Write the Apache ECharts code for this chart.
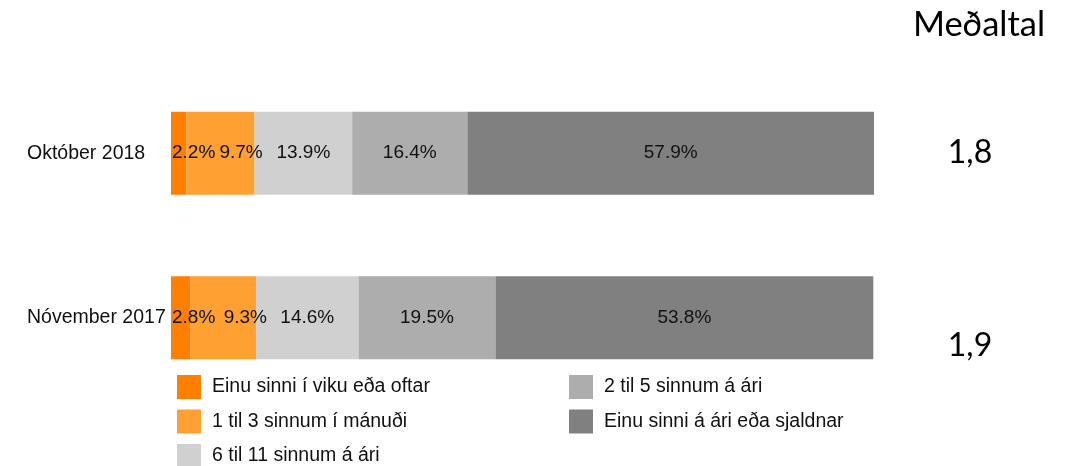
<!DOCTYPE html>
<html>
<head>
<meta charset="utf-8">
<script src="https://cdn.jsdelivr.net/npm/echarts@6/dist/echarts.min.js"></script>
<style>
  html, body { margin: 0; padding: 0; background: #fff; }
  #chart { width: 1066px; height: 466px; }
</style>
</head>
<body>
<div id="chart"></div>
<script>
const periods = ['Október 2018', 'Nóvember 2017'];
const seriesNames = [
  'Einu sinni í viku eða oftar',
  '1 til 3 sinnum í mánuði',
  '6 til 11 sinnum á ári',
  '2 til 5 sinnum á ári',
  'Einu sinni á ári eða sjaldnar'
];
const weekly = [2.2, 2.8];
const monthly = [9.7, 9.3];
const sixToEleven = [13.9, 14.6];
const twoToFive = [16.4, 19.5];
const yearly = [57.9, 53.8];
const averages = ['1,8', '1,9'];
const averageTitle = 'Meðaltal';

const colors = ['#ff8000', '#ffa033', '#d0d0d0', '#adadad', '#808080'];
const values = [weekly, monthly, sixToEleven, twoToFive, yearly];
const font = 'Liberation Sans, Arial, sans-serif';

const chart = echarts.init(document.getElementById('chart'));

// the two small orange segments get their labels pushed right, like the source
const series = values.map((data, i) => ({
  name: seriesNames[i],
  type: 'bar',
  stack: 'total',
  barWidth: 83,
  data: data,
  itemStyle: { color: colors[i] },
  label: {
    show: true,
    position: i < 2 ? 'insideLeft' : 'inside',
    distance: i === 0 ? 1 : (i === 1 ? 33 : 5),
    formatter: p => p.value.toFixed(1) + '%',
    color: '#111',
    fontFamily: font,
    fontSize: 19
  }
}));

const legendCommon = {
  orient: 'vertical',
  top: 375,
  height: 110,
  padding: 0,
  itemWidth: 24,
  itemHeight: 24,
  itemGap: 10.5,
  icon: 'rect',
  selectedMode: false,
  textStyle: {
    fontFamily: font,
    fontSize: 19.5,
    color: '#111',
    padding: [0, 0, 0, 6]
  }
};

chart.setOption({
  animation: false,
  grid: { left: 171, right: 192, top: 71, bottom: 66 },
  xAxis: {
    type: 'value',
    min: 0,
    max: 100.1,
    show: false
  },
  yAxis: {
    type: 'category',
    inverse: true,
    data: periods,
    axisLine: { show: false },
    axisTick: { show: false },
    axisLabel: {
      align: 'left',
      margin: 144,
      fontFamily: font,
      fontSize: 19.5,
      color: '#111'
    }
  },
  legend: [
    Object.assign({}, legendCommon, { left: 177, data: seriesNames.slice(0, 3) }),
    Object.assign({}, legendCommon, { left: 569, data: seriesNames.slice(3) })
  ],
  graphic: [
    {
      type: 'text', x: 979, y: 25,
      style: { text: averageTitle, font: '34.5px Lato', fill: '#000', textAlign: 'center', textVerticalAlign: 'middle' }
    },
    {
      type: 'text', x: 970, y: 153,
      style: { text: averages[0], font: '32px Lato', fill: '#000', textAlign: 'center', textVerticalAlign: 'middle' }
    },
    {
      type: 'text', x: 970, y: 346,
      style: { text: averages[1], font: '32px Lato', fill: '#000', textAlign: 'center', textVerticalAlign: 'middle' }
    }
  ],
  series: series
});

window.addEventListener('resize', () => chart.resize());
</script>
</body>
</html>
